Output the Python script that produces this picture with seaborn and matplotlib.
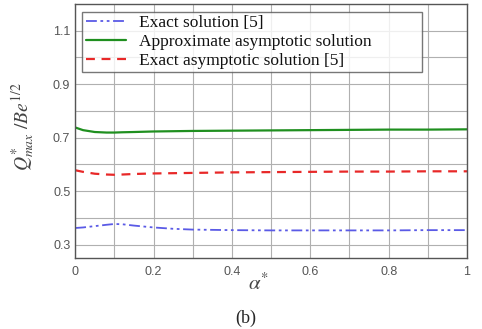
import pandas as pd
import matplotlib
matplotlib.use('Agg')
import matplotlib.pyplot as plt
import seaborn as sns

# values
alpha = [0.0, 0.02, 0.05, 0.08, 0.1, 0.12, 0.15, 0.2, 0.25, 0.3, 0.4, 0.5, 0.6, 0.7, 0.8, 0.9, 1.0]
exact = [0.362, 0.364, 0.369, 0.374, 0.377, 0.376, 0.371, 0.364, 0.359, 0.356, 0.354, 0.353, 0.353, 0.353, 0.353, 0.354, 0.354]
approx = [0.738, 0.728, 0.721, 0.719, 0.719, 0.72, 0.721, 0.723, 0.724, 0.725, 0.726, 0.727, 0.728, 0.729, 0.730, 0.730, 0.731]
exact_asym = [0.578, 0.572, 0.565, 0.562, 0.561, 0.562, 0.564, 0.566, 0.567, 0.568, 0.570, 0.571, 0.572, 0.573, 0.573, 0.574, 0.574]

labels = ['Exact solution [5]', 'Approximate asymptotic solution', 'Exact asymptotic solution [5]']

df = pd.DataFrame({'alpha': alpha, labels[0]: exact, labels[1]: approx, labels[2]: exact_asym})
long = df.melt(id_vars='alpha', var_name='curve', value_name='Q')

sns.set_style('white')
plt.rcParams['font.family'] = ['Liberation Sans', 'DejaVu Sans']
plt.rcParams['mathtext.fontset'] = 'stix'

fig = plt.figure(figsize=(4.82, 3.29), dpi=100)
ax = fig.add_axes([0.156, 0.216, 0.813, 0.772])

palette = {labels[0]: '#5a5ae6', labels[1]: '#1f8f1f', labels[2]: '#e82828'}
sns.lineplot(data=long, x='alpha', y='Q', hue='curve', palette=palette, ax=ax, legend=False)

lines = ax.get_lines()
lines[0].set_dashes([6, 2, 1.5, 2, 1.5, 2])
lines[0].set_linewidth(1.3)
lines[1].set_linewidth(1.6)
lines[2].set_dashes([4, 3])
lines[2].set_linewidth(1.6)

ax.set_xlim(0, 1)
ax.set_ylim(0.25, 1.2)
ax.set_xticks([0, 0.2, 0.4, 0.6, 0.8, 1.0])
ax.set_xticklabels(['0', '0.2', '0.4', '0.6', '0.8', '1'])
ax.set_xticks([0.1, 0.3, 0.5, 0.7, 0.9], minor=True)
ax.set_yticks([0.3, 0.5, 0.7, 0.9, 1.1])
ax.set_yticklabels(['0.3', '0.5', '0.7', '0.9', '1.1'])
ax.set_yticks([0.4, 0.6, 0.8, 1.0], minor=True)
ax.grid(True, which='both', color='#b0b0b0', linewidth=0.8)
ax.tick_params(which='both', direction='in', length=3, labelsize=9, colors='#555555')
ax.tick_params(axis='x', pad=6)
for s in ax.spines.values():
    s.set_color('#555555')
    s.set_linewidth(1.0)

ax.set_xlabel(r'$\alpha^{*}$', fontsize=15, color='#444444')
ax.xaxis.set_label_coords(0.467, -0.098)
ax.xaxis.label.set_va('center')
ax.set_ylabel(r'$Q^{*}_{max}\ /Be^{1/2}$', fontsize=14, color='#444444')
ax.yaxis.set_label_coords(-0.133, 0.516)
ax.yaxis.label.set_va('center')

leg = ax.legend(lines, labels, loc='upper left', bbox_to_anchor=(0.018, 0.97, 0.867, 0.0),
                mode='expand', prop={'family': 'Liberation Serif', 'size': 12.5}, frameon=True,
                fancybox=False, borderaxespad=0.0, handlelength=2.3, handletextpad=0.75,
                labelspacing=0.15, borderpad=0.2)
leg.get_frame().set_edgecolor('#555555')
leg.get_frame().set_linewidth(1.0)
for t in leg.get_texts():
    t.set_color('#111111')

fig.text(0.51, 0.033, '(b)', ha='center', va='center', family='Liberation Serif', fontsize=13)

fig.savefig('out.png', dpi=100)
